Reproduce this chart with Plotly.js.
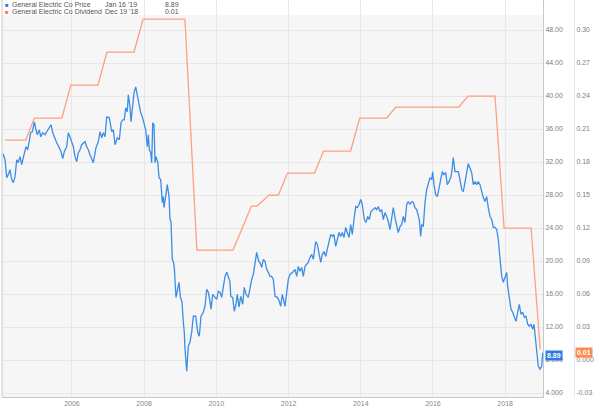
<!DOCTYPE html>
<html>
<head>
<meta charset="utf-8">
<script src="https://cdn.plot.ly/plotly-3.0.1.min.js"></script>
<style>html,body{margin:0;padding:0;background:#fff;}#chart{width:600px;height:408px;}</style>
</head>
<body>
<div id="chart"></div>
<script>
// Price series: dates as decimal years, closing prices (USD)
const priceDates = [
2004.090,2004.146,2004.193,2004.237,2004.284,2004.331,2004.375,2004.423,2004.470,2004.514,
2004.561,2004.608,2004.652,2004.700,2004.727,2004.774,2004.819,2004.857,2004.902,2004.957,
2005.004,2005.040,2005.096,2005.134,2005.190,2005.254,2005.301,2005.373,2005.420,2005.467,
2005.531,2005.578,2005.650,2005.697,2005.744,2005.788,2005.855,2005.899,2005.946,2005.993,
2006.038,2006.085,2006.132,2006.176,2006.223,2006.270,2006.315,2006.362,2006.409,2006.453,
2006.500,2006.592,2006.666,2006.730,2006.777,2006.824,2006.869,2006.916,2006.963,2007.035,
2007.101,2007.146,2007.193,2007.256,2007.312,2007.359,2007.406,2007.450,2007.489,2007.533,
2007.561,2007.608,2007.636,2007.672,2007.719,2007.766,2007.810,2007.857,2007.905,2007.949,
2007.996,2008.043,2008.087,2008.115,2008.143,2008.182,2008.209,2008.237,2008.273,2008.301,
2008.328,2008.376,2008.412,2008.459,2008.503,2008.531,2008.550,2008.597,2008.641,2008.689,
2008.716,2008.744,2008.780,2008.808,2008.835,2008.882,2008.930,2008.966,2009.002,2009.049,
2009.085,2009.112,2009.132,2009.179,2009.223,2009.270,2009.317,2009.362,2009.428,2009.484,
2009.528,2009.575,2009.639,2009.686,2009.733,2009.777,2009.824,2009.852,2009.899,2009.954,
2010.010,2010.054,2010.101,2010.148,2010.193,2010.240,2010.287,2010.331,2010.375,2010.400,
2010.453,2010.497,2010.544,2010.580,2010.628,2010.675,2010.730,2010.774,2010.821,2010.885,
2010.932,2010.979,2011.024,2011.079,2011.118,2011.173,2011.209,2011.256,2011.301,2011.348,
2011.395,2011.439,2011.486,2011.533,2011.578,2011.625,2011.689,2011.744,2011.783,2011.827,
2011.855,2011.902,2011.949,2011.993,2012.040,2012.115,2012.179,2012.226,2012.270,2012.317,
2012.364,2012.409,2012.456,2012.503,2012.547,2012.594,2012.641,2012.686,2012.713,2012.752,
2012.797,2012.844,2012.891,2012.935,2012.982,2013.029,2013.074,2013.121,2013.168,2013.223,
2013.259,2013.306,2013.351,2013.398,2013.445,2013.489,2013.536,2013.583,2013.628,2013.675,
2013.722,2013.766,2013.813,2013.860,2013.905,2013.952,2013.999,2014.043,2014.098,2014.146,
2014.193,2014.237,2014.284,2014.331,2014.395,2014.442,2014.486,2014.533,2014.580,2014.625,
2014.672,2014.719,2014.763,2014.810,2014.857,2014.902,2014.949,2014.996,2015.040,2015.087,
2015.134,2015.179,2015.226,2015.273,2015.317,2015.364,2015.411,2015.456,2015.503,2015.550,
2015.594,2015.622,2015.661,2015.688,2015.733,2015.780,2015.827,2015.871,2015.918,2015.965,
2015.993,2016.029,2016.076,2016.121,2016.168,2016.215,2016.259,2016.306,2016.353,2016.398,
2016.445,2016.492,2016.520,2016.564,2016.611,2016.658,2016.702,2016.749,2016.797,2016.841,
2016.888,2016.935,2016.979,2017.026,2017.074,2017.118,2017.165,2017.212,2017.256,2017.303,
2017.351,2017.395,2017.442,2017.489,2017.533,2017.580,2017.628,2017.672,2017.719,2017.766,
2017.810,2017.858,2017.905,2017.949,2017.996,2018.043,2018.071,2018.115,2018.162,2018.209,
2018.254,2018.301,2018.348,2018.392,2018.439,2018.486,2018.531,2018.578,2018.625,2018.669,
2018.716,2018.763,2018.799,2018.835,2018.874,2018.918,2018.965,2019.013,2019.040
];
const priceValues = [
33.01,32.28,30.11,30.47,31.08,29.87,29.50,30.23,32.28,31.92,
32.65,31.68,32.53,33.25,33.86,33.49,34.70,35.55,35.67,36.88,
35.91,35.31,35.91,35.06,35.55,35.31,35.67,36.15,36.52,35.55,
34.70,34.34,33.74,33.25,32.41,33.25,33.86,35.55,35.06,34.46,
33.86,32.65,32.04,33.13,33.49,34.10,34.34,34.46,33.86,33.49,
32.89,31.92,33.74,34.46,35.67,34.94,35.55,35.06,37.48,37.36,
35.67,35.91,34.10,34.94,34.70,36.76,37.12,37.12,38.57,38.09,
40.15,38.69,36.88,38.69,40.39,41.11,40.15,39.30,37.97,37.48,
36.52,35.91,33.86,35.31,33.49,33.13,31.92,36.76,36.52,31.92,
32.65,32.04,30.11,29.87,27.09,27.81,26.48,28.05,29.26,27.81,
25.03,24.79,20.20,19.96,19.23,15.60,16.93,17.42,15.72,15.00,
12.58,11.37,9.32,6.66,9.68,10.16,11.37,13.31,13.31,11.37,
10.89,13.31,13.79,14.52,16.57,16.21,15.12,14.15,15.97,15.60,
15.36,16.33,16.21,15.60,16.93,18.14,18.63,18.14,17.54,15.72,
15.60,13.91,14.76,15.97,14.40,15.72,14.76,16.81,15.97,15.60,
16.93,17.78,18.38,20.20,21.04,19.96,19.83,19.23,20.20,19.96,
18.99,18.63,18.14,18.14,17.78,15.72,15.60,15.12,14.52,15.97,
15.36,14.52,16.21,17.78,18.38,18.63,18.99,18.14,19.35,18.75,
19.23,18.14,19.35,19.59,19.83,20.44,20.80,20.20,21.41,22.37,
22.01,20.80,19.83,20.80,21.16,20.56,21.41,22.37,23.22,22.98,
23.22,21.77,22.61,23.46,22.98,23.46,22.86,24.07,23.46,22.86,
24.43,23.22,25.03,26.60,26.48,26.85,27.45,26.85,25.03,24.67,
25.40,25.03,26.00,26.24,26.48,26.24,26.60,26.00,26.24,25.03,
25.88,25.40,24.79,23.82,25.03,26.48,25.27,24.43,23.46,24.19,
24.43,25.40,24.67,26.85,27.21,26.85,27.21,27.09,26.48,26.24,
25.64,25.03,22.98,24.43,24.19,27.09,28.66,29.50,30.11,29.87,
30.83,29.26,28.05,27.81,29.02,29.87,30.83,30.47,30.71,29.26,
29.63,30.11,30.71,32.53,30.83,30.83,30.83,29.87,28.66,28.42,
29.87,30.71,31.80,31.32,30.71,29.26,29.63,29.26,29.63,29.26,
28.42,27.69,27.21,27.81,26.48,25.40,25.03,24.07,24.07,23.82,
22.61,19.83,18.14,17.42,18.14,18.63,16.93,15.72,14.15,13.79,
13.31,12.70,13.79,14.76,13.55,13.79,13.19,13.31,12.34,12.10,
12.34,11.74,12.34,10.53,8.96,7.26,6.90,7.26,8.89
];
// Quarterly dividend (USD per share)
const divDates = [
2004.15,2004.46,2004.72,2004.96,2005.13,2005.46,2005.72,2005.97,
2006.13,2006.46,2006.72,2006.97,2007.13,2007.46,2007.72,2007.97,
2008.13,2008.46,2008.72,2008.97,2009.13,2009.46,2009.72,2009.97,
2010.13,2010.46,2010.72,2010.97,2011.13,2011.46,2011.72,2011.97,
2012.13,2012.46,2012.72,2012.97,2013.13,2013.46,2013.72,2013.97,
2014.13,2014.46,2014.72,2014.97,2015.13,2015.46,2015.72,2015.97,
2016.13,2016.46,2016.72,2016.97,2017.13,2017.46,2017.72,2017.97,
2018.13,2018.46,2018.72,2018.97
];
const divValues = [
0.20,0.20,0.20,0.22,0.22,0.22,0.22,0.25,
0.25,0.25,0.25,0.28,0.28,0.28,0.28,0.31,
0.31,0.31,0.31,0.31,0.31,0.10,0.10,0.10,
0.10,0.10,0.12,0.14,0.14,0.15,0.15,0.17,
0.17,0.17,0.17,0.19,0.19,0.19,0.19,0.22,
0.22,0.22,0.22,0.23,0.23,0.23,0.23,0.23,
0.23,0.23,0.23,0.24,0.24,0.24,0.24,0.12,
0.12,0.12,0.12,0.01
];
const yearTicks = [2006,2008,2010,2012,2014,2016,2018];
const yearLabels = ['2006','2008','2010','2012','2014','2016','2018'];
const priceTicks = [4,8,12,16,20,24,28,32,36,40,44,48];
const priceLabels = ['4.000','8.000','12.00','16.00','20.00','24.00','28.00','32.00','36.00','40.00','44.00','48.00'];
const divTicks = [-0.03,0,0.03,0.06,0.09,0.12,0.15,0.18,0.21,0.24,0.27,0.30];
const divLabels = ['-0.03','0.000','0.03','0.06','0.09','0.12','0.15','0.18','0.21','0.24','0.27','0.30'];
const seriesNames = ['General Electric Co Price','General Electric Co Dividend'];
const lastDates = ["Jan 16 '19","Dec 19 '18"];
const lastValues = ['8.89','0.01'];

const BLUE = '#3b8de6', ORANGE = '#ff9f80';
const W = 600, H = 408, L = 2, B = 11;
const PW = W - L, PH = H - B;
const px = v => (v - L) / PW;
const py = v => 1 - v / PH;
const FONT = 'Liberation Sans, Arial, sans-serif';

const traces = [
  {x: priceDates, y: priceValues, type: 'scatter', mode: 'lines', name: seriesNames[0],
   line: {color: BLUE, width: 1.3}, yaxis: 'y', hoverinfo: 'skip'},
  {x: divDates, y: divValues, type: 'scatter', mode: 'lines', name: seriesNames[1],
   line: {color: ORANGE, width: 1.3}, yaxis: 'y2', hoverinfo: 'skip'}
];

const lab = (x, y, text, color, extra) => Object.assign({
  xref: 'paper', yref: 'paper', x: px(x), y: py(y), text: text, showarrow: false,
  xanchor: 'left', yanchor: 'middle', font: {family: FONT, size: 7, color: color || '#555'}
}, extra || {});

const R1 = 4.5, R2 = 12;
const annotations = [
  lab(3, R1, '■', BLUE, {font: {family: FONT, size: 6, color: '#2b7be0'}}),
  lab(10, R1, seriesNames[0]),
  lab(103, R1, lastDates[0]),
  lab(163, R1, lastValues[0]),
  lab(3, R2, '■', '#ff7a45', {font: {family: FONT, size: 6, color: '#ff7a45'}}),
  lab(10, R2, seriesNames[1]),
  lab(103, R2, lastDates[1]),
  lab(163, R2, lastValues[1]),
  {xref: 'paper', yref: 'y', x: px(545), y: priceValues[priceValues.length - 1], text: '<b>' + lastValues[0] + '</b>',
   showarrow: false, xanchor: 'left', yanchor: 'middle', bgcolor: '#2b7be0', borderpad: 1, yshift: -3,
   font: {family: FONT, size: 7, color: '#fff'}},
  {xref: 'paper', yref: 'y2', x: px(575), y: divValues[divValues.length - 1], text: '<b>' + lastValues[1] + '</b>',
   showarrow: false, xanchor: 'left', yanchor: 'middle', bgcolor: '#ff8a50', borderpad: 1, yshift: -3,
   font: {family: FONT, size: 7, color: '#fff'}}
];

const dom = (543 - L) / PW;
const layout = {
  width: W, height: H,
  margin: {l: L, r: 0, t: 0, b: B, pad: 0},
  paper_bgcolor: '#ffffff', plot_bgcolor: '#f6f6f6',
  showlegend: false,
  font: {family: FONT, size: 7, color: '#666'},
  xaxis: {domain: [0, dom], range: [2004.062, 2019.049], tickvals: yearTicks, ticktext: yearLabels,
          showgrid: true, gridcolor: '#e7e7e7', gridwidth: 1, zeroline: false,
          showline: true, linecolor: '#c8c8c8', linewidth: 1, ticks: '',
          tickfont: {family: FONT, size: 7, color: '#888'}},
  yaxis: {side: 'right', anchor: 'x', range: [3.52, 51.64], tickvals: priceTicks, ticktext: priceLabels,
          showgrid: true, gridcolor: '#e7e7e7', gridwidth: 1, zeroline: false,
          showline: true, linecolor: '#c8c8c8', linewidth: 1, ticks: '',
          tickfont: {family: FONT, size: 7, color: '#7a7f77'}},
  yaxis2: {overlaying: 'y', side: 'right', anchor: 'free', position: (574 - L) / PW,
           range: [-0.0336, 0.3273], tickvals: divTicks, ticktext: divLabels,
           showgrid: false, zeroline: false, showline: true, linecolor: '#dbe4f3', linewidth: 1, ticks: '',
           tickfont: {family: FONT, size: 7, color: '#8a7a7a'}},
  shapes: [
    {type: 'rect', xref: 'paper', yref: 'paper', x0: 0, x1: dom, y0: py(15), y1: 1,
     fillcolor: '#ffffff', line: {width: 0}, layer: 'below'},
    {type: 'line', xref: 'paper', yref: 'paper', x0: 0, x1: 0, y0: 0, y1: 1,
     line: {color: '#c8c8c8', width: 1}}
  ],
  annotations: annotations
};

Plotly.newPlot('chart', traces, layout, {staticPlot: true, displayModeBar: false});
</script>
</body>
</html>
